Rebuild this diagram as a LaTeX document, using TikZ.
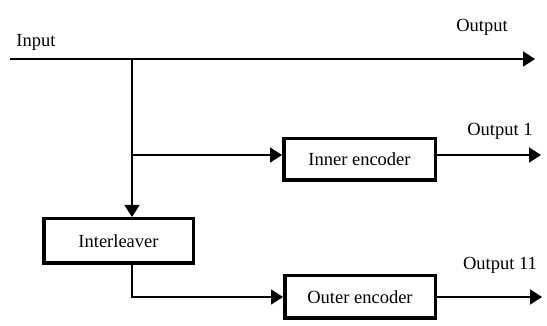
\documentclass[tikz,border=0pt]{standalone}
\usepackage{fontspec}
\setmainfont{Liberation Serif}
\usetikzlibrary{arrows.meta}
\begin{document}
\begin{tikzpicture}[x=1pt,y=-1pt,
  txt/.style={font=\fontsize{18.5}{22}\selectfont},
  box/.style={draw, line width=3.5pt, inner sep=0pt, txt},
  wire/.style={line width=1.8pt},
  arr/.style={wire,-{Triangle[length=12pt,width=15pt]}}]
\useasboundingbox (0,0) rectangle (547,326);
% nodes
\node[box, minimum width=151.5pt, minimum height=41.5pt] (inner) at (359.5,159.5) {Inner encoder};
\node[box, minimum width=149.5pt, minimum height=44.5pt] (leave) at (118.5,241) {Interleaver};
\node[box, minimum width=150.5pt, minimum height=42.5pt] (outer) at (360,297) {Outer encoder};
% coordinates
\coordinate (in) at (10,59);
\coordinate (out) at (535,59);
\coordinate (split) at (132,59);
\coordinate (branch) at (132,155);
\coordinate (o1) at (541,155);
\coordinate (o11) at (542,297);
% labels
\node[txt, anchor=base] (linput) at (36,47) {Input};
\node[txt] (loutput) at (482,27) {Output};
\node[txt] (lo1) at (500,131) {Output 1};
\node[txt] (lo11) at (500,265) {Output 11};
% connectors
\draw[arr] (in) -- (out);
\draw[arr] (split) -- (split |- leave.north);
\draw[arr] (branch) -- (branch -| inner.west);
\draw[arr] (inner.east |- o1) -- (o1);
\draw[arr] (leave.south -| split) |- (outer.west);
\draw[arr] (outer.east) -- (o11);
\end{tikzpicture}
\end{document}
